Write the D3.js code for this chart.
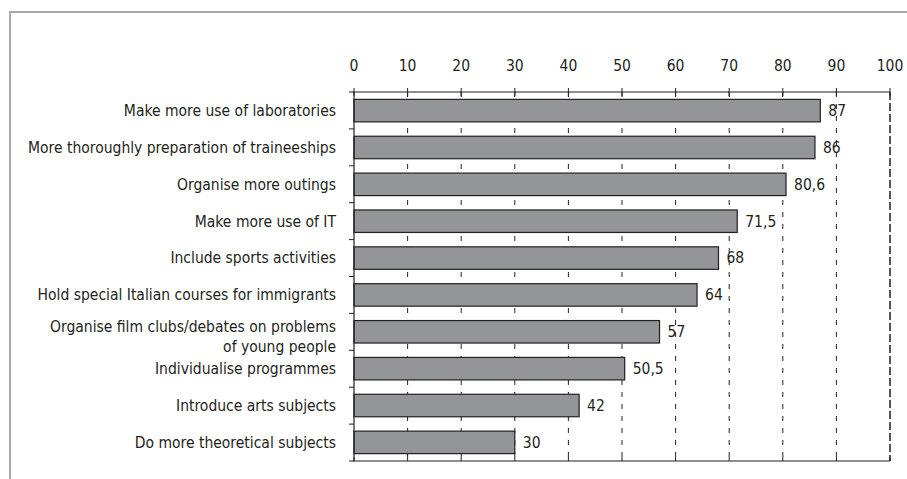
<!DOCTYPE html>
<html>
<head>
<meta charset="utf-8">
<script src="https://cdn.jsdelivr.net/npm/d3@7"></script>
<style>
  body { margin: 0; background: #fff; }
  text { font-family: "DejaVu Sans Condensed", "DejaVu Sans", sans-serif; fill: #231f20; }
</style>
</head>
<body>
<svg width="907" height="479"></svg>
<script>
let categories = [
    ['Make more use of laboratories'],
    ['More thoroughly preparation of traineeships'],
    ['Organise more outings'],
    ['Make more use of IT'],
    ['Include sports activities'],
    ['Hold special Italian courses for immigrants'],
    ['Organise film clubs/debates on problems', 'of young people'],
    ['Individualise programmes'],
    ['Introduce arts subjects'],
    ['Do more theoretical subjects']
];
let values = [87, 86, 80.6, 71.5, 68, 64, 57, 50.5, 42, 30];
let valueLabels = ['87', '86', '80,6', '71,5', '68', '64', '57', '50,5', '42', '30'];
let ticks = [0, 10, 20, 30, 40, 50, 60, 70, 80, 90, 100];

let svg = d3.select('svg');
let plotLeft = 354, plotRight = 890, plotTop = 92, plotBottom = 461;

// outer frame
svg.append('path')
    .attr('d', 'M10,480 V12 H907')
    .attr('fill', 'none')
    .attr('stroke', '#aaa')
    .attr('stroke-width', 2);

let x = d3.scaleLinear().domain([0, 100]).range([plotLeft, plotRight]);
let y = d3.scaleBand().domain(d3.range(values.length)).range([plotTop, plotBottom]).paddingInner(0.39).paddingOuter(0.2);

// dashed grid
svg.append('g').selectAll('line')
    .data(ticks.slice(1, -1))
    .enter().append('line')
    .attr('x1', d=>x(d)).attr('x2', d=>x(d))
    .attr('y1', plotTop).attr('y2', plotBottom)
    .attr('stroke', '#222')
    .attr('stroke-width', 1)
    .attr('stroke-dasharray', '5,7');

// right border
svg.append('line')
    .attr('x1', plotRight).attr('x2', plotRight)
    .attr('y1', plotTop).attr('y2', plotBottom)
    .attr('stroke', '#555')
    .attr('stroke-width', 2)
    .attr('stroke-dasharray', '8,3');

// bars
svg.append('g').selectAll('rect')
    .data(values)
    .enter().append('rect')
    .attr('x', x(0))
    .attr('y', (d, i)=>y(i))
    .attr('width', d=>x(d) - x(0))
    .attr('height', y.bandwidth())
    .attr('fill', '#939598')
    .attr('stroke', '#231f20')
    .attr('stroke-width', 1.2);

// value labels
svg.append('g').selectAll('text')
    .data(values)
    .enter().append('text')
    .attr('x', d=>x(d) + 8)
    .attr('y', (d, i)=>y(i) + y.bandwidth()/2)
    .attr('dy', '0.35em')
    .style('font-size', '15.5px')
    .text((d, i)=>valueLabels[i]);

// top axis
let topAxis = svg.append('g');
topAxis.append('line')
    .attr('x1', plotLeft - 1).attr('x2', plotRight)
    .attr('y1', plotTop).attr('y2', plotTop)
    .attr('stroke', '#231f20').attr('stroke-width', 1.2);
topAxis.selectAll('.tk').data(ticks).enter().append('line')
    .attr('x1', d=>x(d)).attr('x2', d=>x(d))
    .attr('y1', plotTop - 4).attr('y2', plotTop + 4)
    .attr('stroke', '#231f20').attr('stroke-width', 1);
topAxis.selectAll('text').data(ticks).enter().append('text')
    .attr('x', d=>x(d))
    .attr('y', 66)
    .attr('dy', '0.35em')
    .attr('text-anchor', 'middle')
    .style('font-size', '15.5px')
    .text(d=>d);

// bottom axis
svg.append('line')
    .attr('x1', plotLeft - 1).attr('x2', plotRight)
    .attr('y1', plotBottom).attr('y2', plotBottom)
    .attr('stroke', '#231f20').attr('stroke-width', 1.2);
svg.append('g').selectAll('line').data(ticks).enter().append('line')
    .attr('x1', d=>x(d)).attr('x2', d=>x(d))
    .attr('y1', plotBottom - 4).attr('y2', plotBottom)
    .attr('stroke', '#231f20').attr('stroke-width', 1);

// left axis with ticks between bars
svg.append('line')
    .attr('x1', plotLeft).attr('x2', plotLeft)
    .attr('y1', plotTop).attr('y2', plotBottom)
    .attr('stroke', '#231f20').attr('stroke-width', 1.2);
svg.append('g').selectAll('line')
    .data(d3.range(values.length + 1))
    .enter().append('line')
    .attr('x1', plotLeft - 5).attr('x2', plotLeft)
    .attr('y1', i=>plotTop + i*(plotBottom - plotTop)/values.length)
    .attr('y2', i=>plotTop + i*(plotBottom - plotTop)/values.length)
    .attr('stroke', '#231f20').attr('stroke-width', 1);

// category labels
let labels = svg.append('g').selectAll('text')
    .data(categories)
    .enter().append('text')
    .attr('text-anchor', 'end')
    .style('font-size', '15.5px')
    .attr('y', (d, i)=>y(i) + y.bandwidth()/2 + (d.length > 1 ? -5 : 0));
labels.selectAll('tspan')
    .data(d=>d)
    .enter().append('tspan')
    .attr('x', 336)
    .attr('dy', (d, j)=>j == 0 ? '0.35em' : '1.3em')
    .text(d=>d);
</script>
</body>
</html>
